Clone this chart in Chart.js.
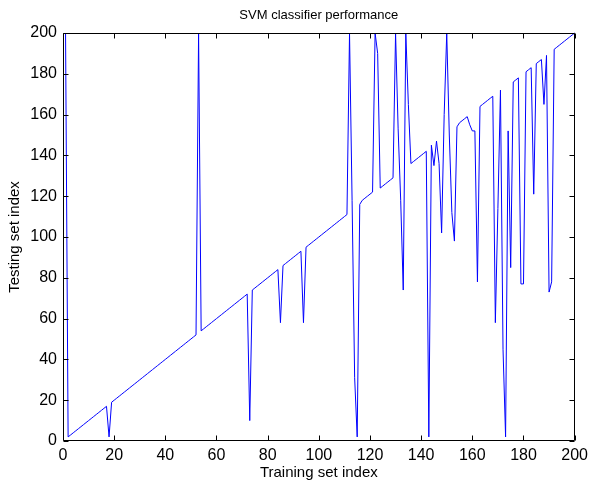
<!DOCTYPE html>
<html>
<head>
<meta charset="utf-8">
<script src="https://cdn.jsdelivr.net/npm/chart.js@4.4.1/dist/chart.umd.min.js"></script>
<style>
  html, body { margin: 0; padding: 0; background: #fff; }
  #wrap { width: 593px; height: 483px; }
</style>
</head>
<body>
<div id="wrap"><canvas id="svm" width="593" height="483"></canvas></div>
<script>
// testing set index matched to each training sample (training index = position + 1)
const testIdx = [
  200, 2, 3, 4, 5, 6, 7, 8, 9, 10,
  11, 12, 13, 14, 15, 16, 17, 2, 19, 20,
  21, 22, 23, 24, 25, 26, 27, 28, 29, 30,
  31, 32, 33, 34, 35, 36, 37, 38, 39, 40,
  41, 42, 43, 44, 45, 46, 47, 48, 49, 50,
  51, 52, 200, 54, 55, 56, 57, 58, 59, 60,
  61, 62, 63, 64, 65, 66, 67, 68, 69, 70,
  71, 72, 10, 74, 75, 76, 77, 78, 79, 80,
  81, 82, 83, 84, 58, 86, 87, 88, 89, 90,
  91, 92, 93, 58, 95, 96, 97, 98, 99, 100,
  101, 102, 103, 104, 105, 106, 107, 108, 109, 110,
  111, 200, 118, 31, 2, 116, 118, 119, 120, 121,
  122, 200, 190, 124, 125, 126, 127, 128, 129, 200,
  153, 118, 74, 200, 165, 136, 137, 138, 139, 140,
  141, 142, 2, 145, 135, 147, 136, 102, 160, 200,
  150, 112, 98, 154, 156, 157, 158, 159, 155, 152,
  152, 78, 164, 165, 166, 167, 168, 169, 58, 114,
  172, 45, 2, 152, 85, 176, 177, 178, 77, 77,
  181, 182, 183, 121, 185, 186, 187, 165, 189, 73,
  78, 192, 193, 194, 195, 196, 197, 198, 199, 200
];
const xTicks = [0, 20, 40, 60, 80, 100, 120, 140, 160, 180, 200];
const yTicks = [0, 20, 40, 60, 80, 100, 120, 140, 160, 180, 200];
const chartTitle = 'SVM classifier performance';

const FONT = "'Liberation Sans Narrow', 'Liberation Sans', Arial, sans-serif";

// matlab-style box with inward ticks on all four sides, title centred over the axes
const boxTicks = {
  id: 'boxTicks',
  afterDatasetsDraw(chart) {
    const { ctx, chartArea: a, scales } = chart;
    const L = Math.round(a.left) + 0.5, R = Math.round(a.right) - 0.5;
    const T = Math.round(a.top) + 0.5, B = Math.round(a.bottom) - 0.5;
    ctx.save();
    ctx.strokeStyle = '#000';
    ctx.lineWidth = 1;
    ctx.beginPath();
    ctx.rect(L, T, R - L, B - T);
    scales.x.ticks.forEach(t => {
      const px = Math.round(scales.x.getPixelForValue(t.value)) + 0.5;
      ctx.moveTo(px, B); ctx.lineTo(px, B - 5);
      ctx.moveTo(px, T); ctx.lineTo(px, T + 5);
    });
    scales.y.ticks.forEach(t => {
      const py = Math.round(scales.y.getPixelForValue(t.value)) + 0.5;
      ctx.moveTo(L, py); ctx.lineTo(L + 5, py);
      ctx.moveTo(R, py); ctx.lineTo(R - 5, py);
    });
    ctx.stroke();

    ctx.fillStyle = '#000';
    ctx.font = `13px ${FONT}`;
    ctx.textAlign = 'center';
    ctx.textBaseline = 'middle';
    ctx.fillText(chartTitle, (a.left + a.right) / 2, 15);
    ctx.restore();
  }
};

new Chart(document.getElementById('svm'), {
  type: 'line',
  data: {
    datasets: [{
      data: testIdx.map((v, i) => ({ x: i + 1, y: v })),
      borderColor: '#0000ff',
      borderWidth: 1,
      pointRadius: 0,
      tension: 0,
      fill: false,
      clip: 2,
    }],
  },
  options: {
    responsive: false,
    animation: false,
    layout: { padding: { left: 0, right: 12, top: 33, bottom: 0 } },
    plugins: {
      legend: { display: false },
      tooltip: { enabled: false },
      title: { display: false },
    },
    scales: {
      x: {
        type: 'linear',
        min: 0,
        max: 200,
        afterBuildTicks: s => { s.ticks = xTicks.map(v => ({ value: v })); },
        afterFit: s => { s.height = 42; },
        grid: { drawOnChartArea: false, drawTicks: false },
        border: { display: false },
        ticks: { color: '#000', font: { family: FONT, size: 16 }, padding: 5, maxRotation: 0, autoSkip: false },
        title: { display: true, text: 'Training set index', color: '#000', font: { family: FONT, size: 15 }, padding: { top: 0, bottom: 1 } },
      },
      y: {
        type: 'linear',
        min: 0,
        max: 200,
        afterBuildTicks: s => { s.ticks = yTicks.map(v => ({ value: v })); },
        afterFit: s => { s.width = 63; },
        grid: { drawOnChartArea: false, drawTicks: false },
        border: { display: false },
        ticks: { color: '#000', font: { family: FONT, size: 16 }, padding: 6, autoSkip: false },
        title: { display: true, text: 'Testing set index', color: '#000', font: { family: FONT, size: 15 }, padding: { top: 6, bottom: 0 } },
      },
    },
  },
  plugins: [boxTicks],
});
</script>
</body>
</html>
